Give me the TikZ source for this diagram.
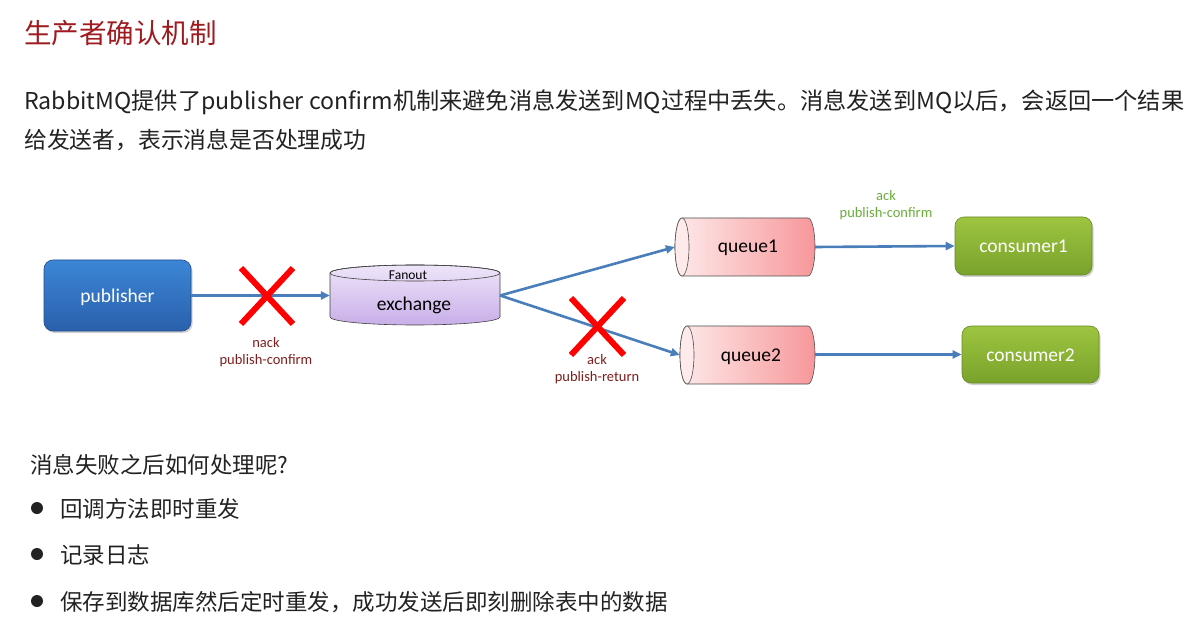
\documentclass[tikz,border=0pt]{standalone}
\usepackage{fontspec}
\setmainfont{Carlito}
\newfontfamily\cjk{Noto Sans CJK SC}
\usetikzlibrary{arrows.meta,shadows}
\definecolor{arrowblue}{HTML}{4A7EBB}
\definecolor{titlered}{HTML}{9E1B20}
\definecolor{labred}{HTML}{7F1F1F}
\definecolor{labgreen}{HTML}{6AAE3C}
\definecolor{pubtop}{HTML}{3C86D6}
\definecolor{pubbot}{HTML}{2A60AC}
\definecolor{contop}{HTML}{9EC540}
\definecolor{conbot}{HTML}{78A22B}
\definecolor{extop}{HTML}{EEE5F9}
\definecolor{exbot}{HTML}{C8AEE8}
\definecolor{qleft}{HTML}{FEEAEA}
\definecolor{qright}{HTML}{F7979A}
\definecolor{txtgray}{HTML}{222222}
\begin{document}
\begin{tikzpicture}[x=1pt,y=-1pt,
  arr/.style={draw=arrowblue, line width=2.6pt, -{Triangle[length=9pt,width=8pt]}},
  rbox/.style={rounded corners=9pt, text=white, font=\fontsize{19.5}{22}\selectfont,
     text height=15pt, text depth=1pt,
     drop shadow={shadow xshift=1.5pt, shadow yshift=-2pt, opacity=0.35}},
  pubbox/.style={rbox, top color=pubtop, bottom color=pubbot, draw=pubbot!80!black, line width=0.6pt},
  conbox/.style={rbox, top color=contop, bottom color=conbot, draw=conbot!85!black, line width=0.6pt},
  inner/.style={inner sep=0pt, font=\fontsize{19.5}{22}\selectfont, text=black},
  cross/.style={draw=red, line width=6pt},
  redlab/.style={text=labred, font=\fontsize{14.5}{17}\selectfont, align=center},
  greenlab/.style={text=labgreen, font=\fontsize{14.5}{17}\selectfont, align=center},
  para/.style={anchor=base west, inner sep=0pt, text=txtgray, font=\cjk\fontsize{22.5}{27}\selectfont},
  bul/.style={fill=txtgray, draw=none}
]
\useasboundingbox[fill=white] (0,0) rectangle (1204,620);

% title and paragraph
\node[para, text=titlered, font=\cjk\fontsize{27.5}{32}\selectfont] (title) at (24,44) {生产者确认机制};
\node[para, font=\cjk\fontsize{23.2}{27}\selectfont] (p1) at (24,110) {RabbitMQ提供了publisher confirm机制来避免消息发送到MQ过程中丢失。消息发送到MQ以后，会返回一个结果};
\node[para, font=\cjk\fontsize{22.8}{27}\selectfont] (p2) at (24,149) {给发送者，表示消息是否处理成功};

% publisher
\node[pubbox, minimum width=147pt, minimum height=71pt] (pub) at (117.5,295.5) {publisher};

% exchange cylinder
\node[inner, minimum width=170pt, minimum height=60pt] (ex) at (415,295.5) {};
\path[top color=extop, bottom color=exbot, draw=black!75, line width=0.6pt]
  (330,273) -- (330,317) arc[start angle=180, end angle=360, x radius=85, y radius=-8]
  -- (500,273) arc[start angle=0, end angle=180, x radius=85, y radius=-8] -- cycle;
\draw[black!75, line width=0.6pt] (415,273) ellipse[x radius=85, y radius=8];
\node[inner, font=\fontsize{13.5}{15}\selectfont] (fan) at (408,275) {Fanout};
\node[inner] (exl) at (414,305) {exchange};

% queue1
\node[inner, minimum width=140pt, minimum height=58pt] (q1) at (745,247) {};
\path[left color=qleft, right color=qright, draw=black!70, line width=0.6pt]
  (682,218) -- (808,218) arc[start angle=90, end angle=-90, x radius=7, y radius=-29]
  -- (682,276) arc[start angle=270, end angle=90, x radius=7, y radius=-29] -- cycle;
\draw[fill=qleft, draw=black!70, line width=0.6pt] (682,247) ellipse[x radius=7, y radius=29];
\node[inner] (q1l) at (748,248) {queue1};

% queue2
\node[inner, minimum width=135pt, minimum height=58pt] (q2) at (747.5,355) {};
\path[left color=qleft, right color=qright, draw=black!70, line width=0.6pt]
  (687,326) -- (808,326) arc[start angle=90, end angle=-90, x radius=7, y radius=-29]
  -- (687,384) arc[start angle=270, end angle=90, x radius=7, y radius=-29] -- cycle;
\draw[fill=qleft, draw=black!70, line width=0.6pt] (687,355) ellipse[x radius=7, y radius=29];
\node[inner] (q2l) at (751,357) {queue2};

% consumers
\node[conbox, minimum width=137pt, minimum height=58pt] (c1) at (1023.5,246) {consumer1};
\node[conbox, minimum width=137pt, minimum height=57pt] (c2) at (1030.5,354.5) {consumer2};

% connectors
\draw[arr] (pub.east) -- (ex.west);
\draw[arr] (ex.east) -- (q1.west);
\draw[arr] (ex.east) -- (q2.west);
\draw[arr] (q1.east) -- (c1.west);
\draw[arr] (q2.east |- c2.west) -- (c2.west);

% crosses
\draw[cross] (241,268) -- (293,324);
\draw[cross] (241,324) -- (293,268);
\draw[cross] (571,298) -- (624,355);
\draw[cross] (571,355) -- (624,298);

% labels
\node[redlab] (l1) at (266,352) {nack\\publish-confirm};
\node[redlab] (l2) at (597,369) {ack\\publish-return};
\node[greenlab] (l3) at (886,205) {ack\\publish-confirm};

% bottom text
\node[para] (q) at (30,473) {消息失败之后如何处理呢?};
\fill[bul] (37,508) circle[radius=6];
\fill[bul] (37,554) circle[radius=6];
\fill[bul] (37,601) circle[radius=6];
\node[para] (b1) at (60,517) {回调方法即时重发};
\node[para] (b2) at (60,563) {记录日志};
\node[para] (b3) at (60,610) {保存到数据库然后定时重发，成功发送后即刻删除表中的数据};
\end{tikzpicture}
\end{document}
